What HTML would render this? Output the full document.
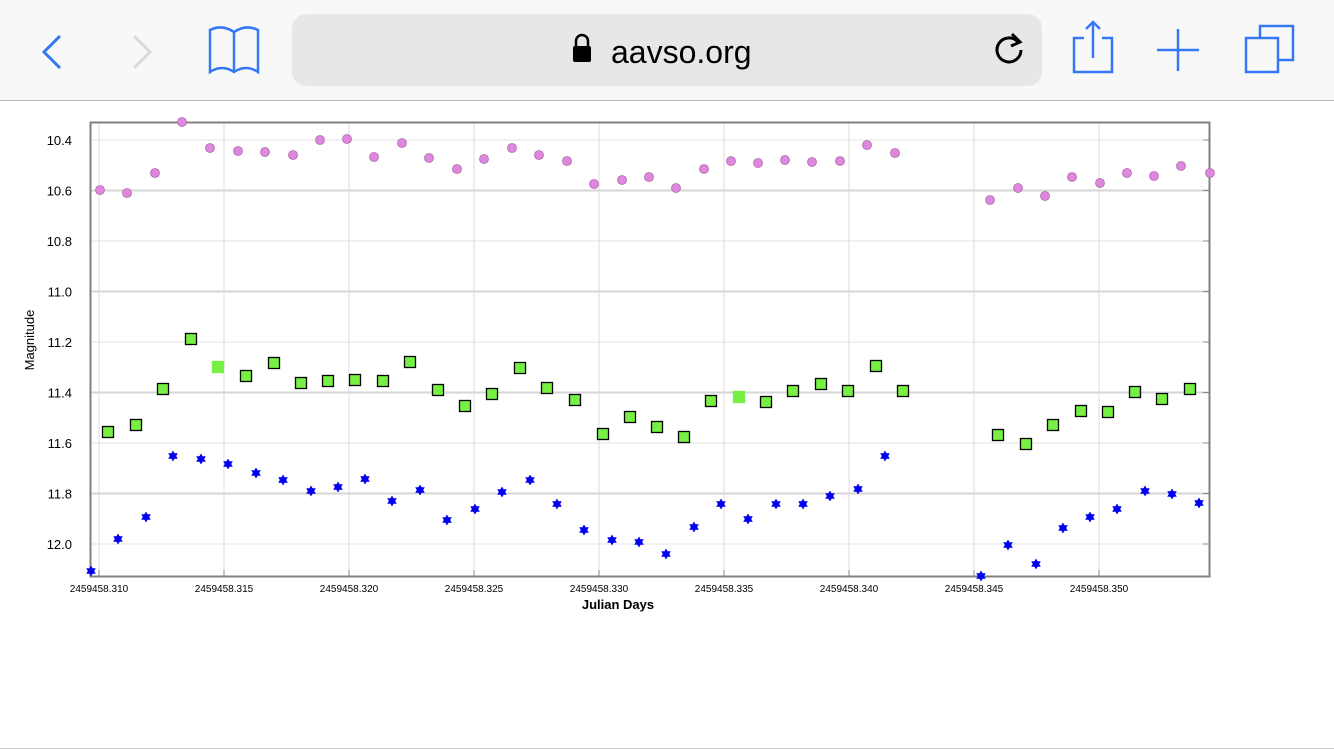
<!DOCTYPE html>
<html><head><meta charset="utf-8"><style>
html,body{margin:0;padding:0;background:#fff;width:1334px;height:750px;overflow:hidden;font-family:"Liberation Sans",sans-serif}
</style></head><body>
<svg id="s" width="1334" height="750" xmlns="http://www.w3.org/2000/svg" font-family="Liberation Sans, sans-serif">
<rect x="0" y="0" width="1334" height="100" fill="#f8f8f8"/>
<line x1="0" y1="100.5" x2="1334" y2="100.5" stroke="#bbb"/>
<rect x="292" y="14" width="750" height="72" rx="14" fill="#e7e7e7"/>
<path d="M60 36 L44 52 L60 68" fill="none" stroke="#3478f6" stroke-width="3"/>
<path d="M134 36 L150 52 L134 68" fill="none" stroke="#d8d8d8" stroke-width="3"/>
<path d="M210 30 Q222 24 234 32 Q246 24 258 30 L258 72 Q246 64 234 72 Q222 64 210 72 Z M234 32 L234 72" fill="none" stroke="#3478f6" stroke-width="2.5"/>
<rect x="573" y="46" width="18" height="16" rx="2" fill="#000"/>
<path d="M576 47 v-6 a6 6 0 0 1 12 0 v6" fill="none" stroke="#000" stroke-width="2.5"/>
<text x="611" y="63" font-size="32" fill="#000">aavso.org</text>
<path d="M1018 42 a12 12 0 1 0 3 8" fill="none" stroke="#000" stroke-width="3"/>
<path d="M1012 34 L1020 42 L1011 46" fill="none" stroke="#000" stroke-width="3"/>
<path d="M1084 38 h-10 v34 h38 v-34 h-10 M1093 22 v36 M1086 29 l7 -7 7 7" fill="none" stroke="#3478f6" stroke-width="2.5"/>
<path d="M1157 50 h42 M1178 29 v42" stroke="#3478f6" stroke-width="2.5"/>
<rect x="1246" y="38" width="32" height="34" fill="none" stroke="#3478f6" stroke-width="2.5"/>
<path d="M1260 38 v-12 h33 v34 h-15" fill="none" stroke="#3478f6" stroke-width="2.5"/>
<line x1="0" y1="748.5" x2="1334" y2="748.5" stroke="#ccc"/>
<g id="grid"></g>
<rect x="90.5" y="122.5" width="1119" height="454" fill="none" stroke="#808080" stroke-width="2"/>
<text x="34" y="340" font-size="13" transform="rotate(-90 34 340)" text-anchor="middle" fill="#000">Magnitude</text>
<text x="618" y="609" font-size="13" font-weight="bold" text-anchor="middle" fill="#000">Julian Days</text>
<g id="pts"></g>
</svg>
<script>
var NS="http://www.w3.org/2000/svg",g=document.getElementById('grid'),p=document.getElementById('pts');
function el(t,a,par){var e=document.createElementNS(NS,t);for(var k in a)e.setAttribute(k,a[k]);(par||g).appendChild(e);return e;}
var labs=["10.4","10.6","10.8","11.0","11.2","11.4","11.6","11.8","12.0"];
for(var i=0;i<9;i++){var y=140+i*50.5;el('line',{x1:91,x2:1209,y1:y,y2:y,stroke:(i%2?"#d6d6d6":"#e3e3e3"),"stroke-width":(i%2?2:1)});
el('line',{x1:1203,x2:1209,y1:y,y2:y,stroke:"#888"});
var t=el('text',{x:72,y:y+5,"font-size":13,"text-anchor":"end",fill:"#000"});t.textContent=labs[i];}
var xl=[".310",".315",".320",".325",".330",".335",".340",".345",".350"];
for(var i=0;i<9;i++){var x=99+i*125;el('line',{x1:x,x2:x,y1:123,y2:576,stroke:"#dcdcdc"});
el('line',{x1:x,x2:x,y1:570,y2:576,stroke:"#888"});
var t=el('text',{x:x,y:592,"font-size":10,"text-anchor":"middle",fill:"#000"});t.textContent="2459458"+xl[i];}
var pink=[[100,190],[127,193],[155,173],[182,122],[210,148],[238,151],[265,152],[293,155],[320,140],[347,139],[374,157],[402,143],[429,158],[457,169],[484,159],[512,148],[539,155],[567,161],[594,184],[622,180],[649,177],[676,188],[704,169],[731,161],[758,163],[785,160],[812,162],[840,161],[867,145],[895,153],[990,200],[1018,188],[1045,196],[1072,177],[1100,183],[1127,173],[1154,176],[1181,166],[1210,173]];
pink.forEach(function(a){el('circle',{cx:a[0],cy:a[1],r:4.5,fill:"#dd88dd",stroke:"#b06ab0","stroke-width":0.8},p);});
var grn=[[108,432],[136,425],[163,389],[191,339],[218,367,1],[246,376],[274,363],[301,383],[328,381],[355,380],[383,381],[410,362],[438,390],[465,406],[492,394],[520,368],[547,388],[575,400],[603,434],[630,417],[657,427],[684,437],[711,401],[739,397,1],[766,402],[793,391],[821,384],[848,391],[876,366],[903,391],[998,435],[1026,444],[1053,425],[1081,411],[1108,412],[1135,392],[1162,399],[1190,389]];
grn.forEach(function(a){el('rect',{x:a[0]-5.5,y:a[1]-5.5,width:11,height:11,fill:"#77f044",stroke:a[2]?"#77f044":"#000","stroke-width":1.3},p);});
var blu=[[91,571],[118,539],[146,517],[173,456],[201,459],[228,464],[256,473],[283,480],[311,491],[338,487],[365,479],[392,501],[420,490],[447,520],[475,509],[502,492],[530,480],[557,504],[584,530],[612,540],[639,542],[666,554],[694,527],[721,504],[748,519],[776,504],[803,504],[830,496],[858,489],[885,456],[981,576],[1008,545],[1036,564],[1063,528],[1090,517],[1117,509],[1145,491],[1172,494],[1199,503]];
blu.forEach(function(a){var x=a[0],y=a[1],r=5.5;
el('polygon',{points:[x,y-r,x+r*0.87,y+r/2,x-r*0.87,y+r/2].join(','),fill:"#0000ee"},p);
el('polygon',{points:[x,y+r,x+r*0.87,y-r/2,x-r*0.87,y-r/2].join(','),fill:"#0000ee"},p);});
</script>
</body></html>
